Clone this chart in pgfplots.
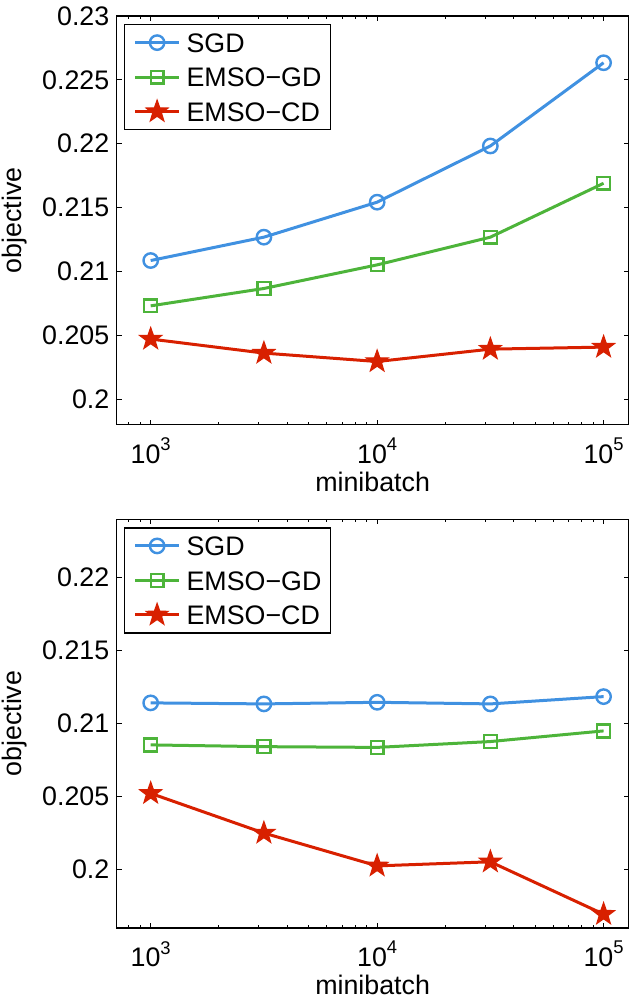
\documentclass[border=0pt]{standalone}
\usepackage{fontspec}
\setmainfont{Liberation Sans}
\usepackage{pgfplots}
\pgfplotsset{compat=1.18}
\definecolor{cSGD}{RGB}{64,145,225}
\definecolor{cGD}{RGB}{77,180,58}
\definecolor{cCD}{RGB}{216,32,0}
\pgfdeclareplotmark{pstar}{%
  \pgfpathmoveto{\pgfpointpolar{90}{\pgfplotmarksize}}%
  \pgfpathlineto{\pgfpointpolar{126}{0.4\pgfplotmarksize}}%
  \pgfpathlineto{\pgfpointpolar{162}{\pgfplotmarksize}}%
  \pgfpathlineto{\pgfpointpolar{198}{0.4\pgfplotmarksize}}%
  \pgfpathlineto{\pgfpointpolar{234}{\pgfplotmarksize}}%
  \pgfpathlineto{\pgfpointpolar{270}{0.4\pgfplotmarksize}}%
  \pgfpathlineto{\pgfpointpolar{306}{\pgfplotmarksize}}%
  \pgfpathlineto{\pgfpointpolar{342}{0.4\pgfplotmarksize}}%
  \pgfpathlineto{\pgfpointpolar{18}{\pgfplotmarksize}}%
  \pgfpathlineto{\pgfpointpolar{54}{0.4\pgfplotmarksize}}%
  \pgfpathclose
  \pgfusepathqfillstroke}
\newcommand{\tenp}[1]{10\raisebox{6.3pt}{\fontsize{9.2}{10}\selectfont #1}}
\tikzset{
  sgd/.style={color=cSGD, line width=1.5pt, mark=o, mark size=3.6pt, mark options={solid, line width=1.2pt}},
  gd/.style={color=cGD, line width=1.5pt, mark=square, mark size=3.2pt, mark options={solid, line width=1.2pt}},
  cd/.style={color=cCD, line width=1.5pt, mark=pstar, mark size=5.7pt, mark options={solid, line width=0.6pt, fill=cCD}},
}
\begin{document}
\fontsize{13.4}{16}\selectfont
\begin{tikzpicture}
\useasboundingbox (-58.35pt,8pt) rectangle (256.15pt,-491pt);
\begin{axis}[
    scale only axis, width=255.9pt, height=204.3pt,
    xmode=log, xmin=707.9, xmax=128825,
    xtick={1000,10000,100000},
    xticklabels={\tenp{3},\tenp{4},\tenp{5}},
    minor xtick={800,900,2000,3000,4000,5000,6000,7000,8000,9000,20000,30000,40000,50000,60000,70000,80000,90000},
    major tick length=2.5pt, minor tick length=1.5pt,
    tick align=inside,
    axis line style={line width=0.7pt},
    tick style={black, line width=0.5pt},
    clip=false,
    xlabel={minibatch}, ylabel={objective},
    xlabel style={at={(axis description cs:0.5,-0.164)}, anchor=base, inner sep=0pt},
    ylabel style={at={(axis description cs:-0.1753,0.5)}, anchor=south, inner sep=0pt},
    yticklabel style={inner sep=0pt, anchor=east, xshift=-3.5pt},
    xticklabel style={inner sep=0pt, anchor=north, yshift=-6.5pt},
    legend style={at={(axis description cs:0,1)}, anchor=north west,
      xshift=3.65pt, yshift=-4pt, draw=black, line width=0.6pt, fill=white,
      inner xsep=4.5pt, inner ysep=3pt, row sep=5.25pt, column sep=3pt,
      nodes={inner sep=0pt, text height=10.8pt, text depth=1.2pt},
      cells={anchor=west}},
    legend image code/.code={\draw[mark repeat=2,mark phase=2] plot coordinates {(0pt,0pt) (11pt,0pt) (22pt,0pt)};},
  at={(0pt,0pt)}, anchor=north west,
  ymin=0.198, ymax=0.23,
  ytick={0.2,0.205,0.21,0.215,0.22,0.225,0.23},
  yticklabels={0.2,0.205,0.21,0.215,0.22,0.225,0.23}]
\addplot[sgd] coordinates {(1000,0.21085) (3162,0.21268) (10000,0.21542) (31623,0.21982) (100000,0.22634)};
\addlegendentry{SGD}
\addplot[gd] coordinates {(1000,0.2073) (3162,0.20866) (10000,0.21051) (31623,0.21268) (100000,0.2169)};
\addlegendentry{EMSO−GD}
\addplot[cd] coordinates {(1000,0.2047) (3162,0.2036) (10000,0.20294) (31623,0.20391) (100000,0.20407)};
\addlegendentry{EMSO−CD}
\end{axis}
\begin{axis}[
    scale only axis, width=255.9pt, height=204.3pt,
    xmode=log, xmin=707.9, xmax=128825,
    xtick={1000,10000,100000},
    xticklabels={\tenp{3},\tenp{4},\tenp{5}},
    minor xtick={800,900,2000,3000,4000,5000,6000,7000,8000,9000,20000,30000,40000,50000,60000,70000,80000,90000},
    major tick length=2.5pt, minor tick length=1.5pt,
    tick align=inside,
    axis line style={line width=0.7pt},
    tick style={black, line width=0.5pt},
    clip=false,
    xlabel={minibatch}, ylabel={objective},
    xlabel style={at={(axis description cs:0.5,-0.164)}, anchor=base, inner sep=0pt},
    ylabel style={at={(axis description cs:-0.1753,0.5)}, anchor=south, inner sep=0pt},
    yticklabel style={inner sep=0pt, anchor=east, xshift=-3.5pt},
    xticklabel style={inner sep=0pt, anchor=north, yshift=-6.5pt},
    legend style={at={(axis description cs:0,1)}, anchor=north west,
      xshift=3.65pt, yshift=-4pt, draw=black, line width=0.6pt, fill=white,
      inner xsep=4.5pt, inner ysep=3pt, row sep=5.25pt, column sep=3pt,
      nodes={inner sep=0pt, text height=10.8pt, text depth=1.2pt},
      cells={anchor=west}},
    legend image code/.code={\draw[mark repeat=2,mark phase=2] plot coordinates {(0pt,0pt) (11pt,0pt) (22pt,0pt)};},
  at={(0pt,-251.65pt)}, anchor=north west,
  ymin=0.196, ymax=0.224,
  ytick={0.2,0.205,0.21,0.215,0.22},
  yticklabels={0.2,0.205,0.21,0.215,0.22}]
\addplot[sgd] coordinates {(1000,0.21142) (3162,0.21135) (10000,0.21146) (31623,0.21135) (100000,0.21185)};
\addlegendentry{SGD}
\addplot[gd] coordinates {(1000,0.20854) (3162,0.20842) (10000,0.20837) (31623,0.20877) (100000,0.2095)};
\addlegendentry{EMSO−GD}
\addplot[cd] coordinates {(1000,0.20522) (3162,0.2025) (10000,0.20025) (31623,0.20053) (100000,0.19694)};
\addlegendentry{EMSO−CD}
\end{axis}
\end{tikzpicture}
\end{document}
